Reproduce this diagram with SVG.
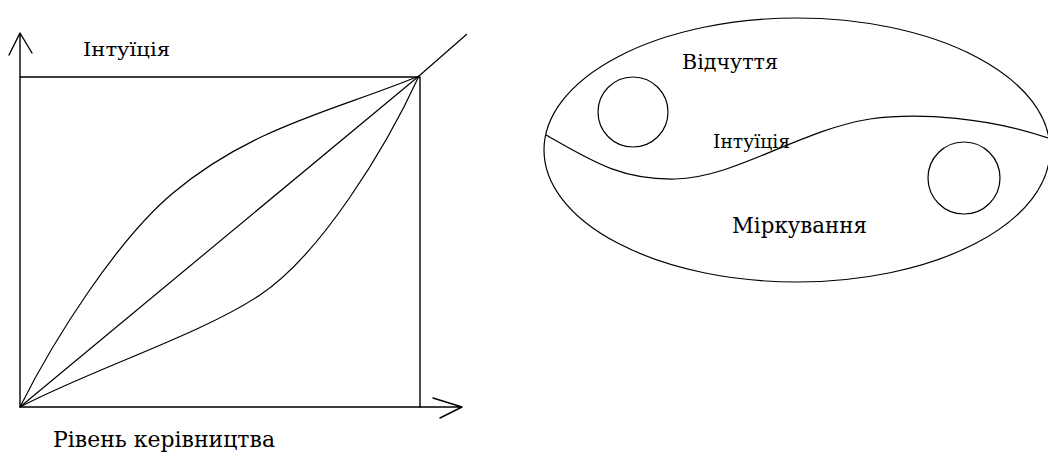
<svg xmlns="http://www.w3.org/2000/svg" width="1048" height="457" viewBox="0 0 1048 457">
<style>
.ln{fill:none;stroke:#000;stroke-width:1.4;stroke-linecap:round;stroke-linejoin:round}
.cv{fill:none;stroke:#000;stroke-width:1.2}
.t{font-family:"DejaVu Serif","Liberation Serif",serif;fill:#000}
</style>
<rect width="1048" height="457" fill="#fff"/>
<g id="chart">
<g id="axes">
<path class="ln" d="M20,407 L20,33 M9,55 L20,33 L32,53"/>
<path class="ln" d="M20,407 L462,407 M433,398 L462,407 L440,418"/>
<path class="ln" d="M20,77 L420,77 L420,407"/>
<path class="cv" d="M419,76 L467,34"/>
</g>
<g id="curves">
<path class="cv" d="M20,407 C55,337 118,239 173,193 C253,126 337,110 419,76"/>
<path class="cv" d="M20,407 L419,76"/>
<path class="cv" d="M20,407 C90,370 200,335 260,295 C320,255 385,150 419,76"/>
</g>
<text class="t" x="83" y="56" font-size="19" textLength="87" lengthAdjust="spacingAndGlyphs">Інтуїція</text>
<text class="t" x="53" y="447" font-size="22" textLength="222" lengthAdjust="spacingAndGlyphs">Рівень керівництва</text>
</g>
<g id="ellipse-diagram">
<ellipse class="cv" cx="797" cy="150" rx="253" ry="132"/>
<circle class="cv" cx="633" cy="112" r="35"/>
<circle class="cv" cx="964" cy="178" r="36"/>
<path class="cv" d="M546,135 C590,160 620,180 675,179 C735,178 800,130 870,119 C920,112 990,118 1048,138"/>
<text class="t" x="682" y="69" font-size="21" textLength="96" lengthAdjust="spacingAndGlyphs">Відчуття</text>
<text class="t" x="713" y="148" font-size="19" textLength="77" lengthAdjust="spacingAndGlyphs">Інтуїція</text>
<text class="t" x="732" y="233" font-size="22" textLength="135" lengthAdjust="spacingAndGlyphs">Міркування</text>
</g>
</svg>
